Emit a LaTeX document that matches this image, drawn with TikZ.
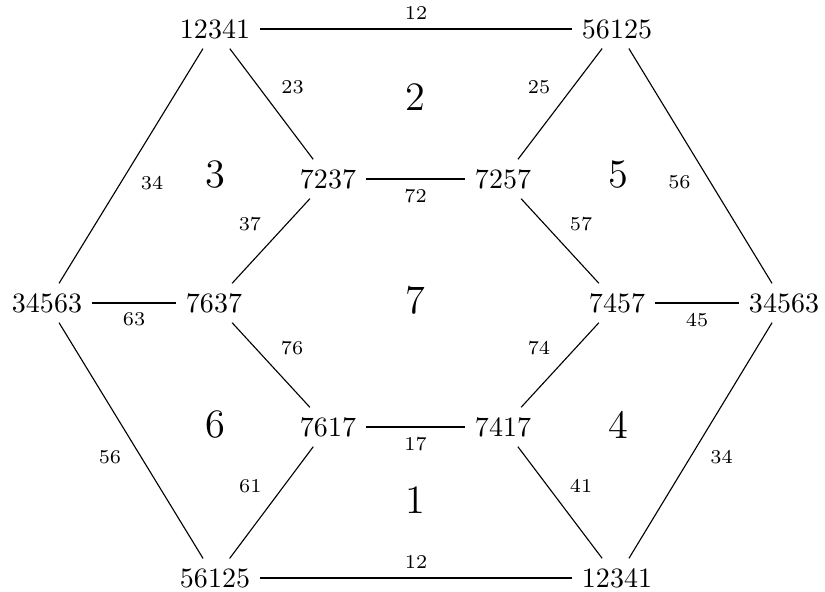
\documentclass[tikz,border=0pt]{standalone}
\usepackage{amssymb,amsmath}
\usepackage{tikz}

\begin{document}
\begin{tikzpicture}[x=0.357pt,y=-0.357pt,
    vertex/.style={inner sep=3.33pt},
    lab/.style={font=\scriptsize},
    face/.style={font=\Large}]
\useasboundingbox (0,0) rectangle (825,592);
\node[vertex] (a) at (215,29) {12341};
\node[vertex] (b) at (617,29) {56125};
\node[vertex] (c) at (328,179) {7237};
\node[vertex] (d) at (503,179) {7257};
\node[vertex] (e) at (47,303) {34563};
\node[vertex] (f) at (214,303) {7637};
\node[vertex] (g) at (617,303) {7457};
\node[vertex] (h) at (784,303) {34563};
\node[vertex] (i) at (328,427) {7617};
\node[vertex] (j) at (503,427) {7417};
\node[vertex] (k) at (215,578) {56125};
\node[vertex] (l) at (617,578) {12341};
\draw (a) -- node[lab,above] {12} (b);
\draw (a) -- node[lab,above right] {23} (c);
\draw (b) -- node[lab,above left] {25} (d);
\draw (a) -- node[lab,below right] {34} (e);
\draw (b) -- node[lab,below left] {56} (h);
\draw (c) -- node[lab,below] {72} (d);
\draw (c) -- node[lab,above left] {37} (f);
\draw (d) -- node[lab,above right] {57} (g);
\draw (e) -- node[lab,below] {63} (f);
\draw (g) -- node[lab,below] {45} (h);
\draw (f) -- node[lab,above right] {76} (i);
\draw (g) -- node[lab,above left] {74} (j);
\draw (e) -- node[lab,below left] {56} (k);
\draw (h) -- node[lab,below right] {34} (l);
\draw (i) -- node[lab,below] {17} (j);
\draw (i) -- node[lab,above left] {61} (k);
\draw (j) -- node[lab,above right] {41} (l);
\draw (k) -- node[lab,above] {12} (l);
\node[face] (f1) at (415,500) {1};
\node[face] (f2) at (415,97) {2};
\node[face] (f3) at (215,175) {3};
\node[face] (f4) at (618,425) {4};
\node[face] (f5) at (618,175) {5};
\node[face] (f6) at (215,425) {6};
\node[face] (f7) at (415,300) {7};
\end{tikzpicture}
\end{document}
